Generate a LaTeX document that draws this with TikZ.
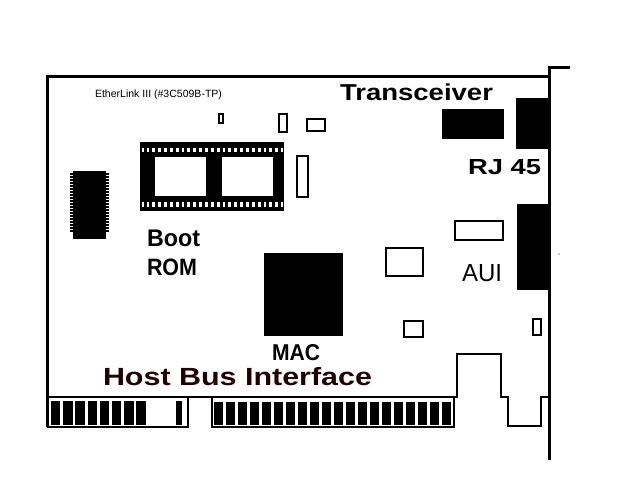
\documentclass[tikz,border=0pt]{standalone}
\usepackage{fontspec}
\setmainfont{Liberation Sans}
\usepackage{graphicx}
\definecolor{hostcol}{HTML}{200000}
\begin{document}
\begin{tikzpicture}[x=0.75pt,y=-0.75pt,
  edge/.style={line width=2.25pt},
  thinedge/.style={line width=1.5pt},
  part/.style={draw, line width=1.5pt},
  lbl/.style={inner sep=0pt, outer sep=0pt, anchor=base west}]
\useasboundingbox[fill=white] (0,0) rectangle (640,480);

% board outline
\draw[edge] (548,76) -- (47,76) -- (47,427);
\draw[thinedge] (47,427) -- (188,427) -- (188,397);
\draw[thinedge] (47,397) -- (456.5,397) -- (456.5,354) -- (500.5,354) -- (500.5,396.5)
   -- (507.5,396.5) -- (507.5,426) -- (541,426) -- (541,397) -- (548,397);
% bracket
\draw[line width=2.25pt] (570,67.5) -- (549,67.5) -- (549,460);
\fill (559,254) circle (0.6);

% edge connectors
\draw[thinedge] (212,397) rectangle (454,426.5);
\foreach \k in {0,...,7} \fill (51+12.2*\k,401) rectangle ++(9.3,24);
\fill (176,401) rectangle (182,425);
\foreach \k in {0,...,19} \fill (214+12*\k,401.5) rectangle ++(9,23.5);

% boot ROM socket
\fill (140,142) rectangle (284,211);
\fill[white] (155,157) rectangle (206,196);
\fill[white] (222,157) rectangle (273,196);
\fill[white] (142,148) rectangle (283,152);
\fill[white] (142,202) rectangle (283,206.5);
\foreach \k in {0,...,23} {
  \fill (143.5+5.85*\k,148) rectangle ++(3,4);
  \fill (143.5+5.85*\k,202) rectangle ++(3,4.5);
}

% left chip
\foreach \k in {0,...,19} \fill (70,173+3*\k) rectangle ++(39,2);
\fill (73,171) rectangle (106,239);

% small outlined parts
\draw[part] (218.5,113.5) rectangle (223,123);
\draw[part] (278.5,113.5) rectangle (286.5,131.5);
\draw[part] (307,119) rectangle (325,131);
\draw[part] (296.5,155.5) rectangle (307.5,197);
\draw[part] (455,220.5) rectangle (503,240);
\draw[part] (385.5,247.5) rectangle (423,276);
\draw[part] (403.5,320.5) rectangle (423,337);
\draw[part] (532.5,318.5) rectangle (540.5,335);

% solid parts
\fill (442,109) rectangle (504,139);
\fill (516,98) rectangle (549,149);
\fill (517,204) rectangle (549,290);
\fill (264,253) rectangle (343,336);

% labels
\node[lbl] (model) at (95,97) {\resizebox{95.25pt}{!}{EtherLink III (\#3C509B-TP)}};
\node[lbl] (transceiver) at (340,100) {\resizebox{114.75pt}{12.5pt}{\bfseries Transceiver}};
\node[lbl] (rj) at (468,174) {\resizebox{54.75pt}{11.25pt}{\bfseries RJ 45}};
\node[lbl] (boot) at (147,246) {\resizebox{39.75pt}{12.4pt}{\bfseries Boot}};
\node[lbl] (rom) at (147,275) {\resizebox{37.5pt}{12.4pt}{\bfseries ROM}};
\node[lbl] (aui) at (462,281) {\resizebox{30pt}{12.75pt}{AUI}};
\node[lbl] (mac) at (272,360) {\resizebox{36pt}{12pt}{\bfseries MAC}};
\node[lbl, text=hostcol] (host) at (103,385) {\resizebox{201.75pt}{13.5pt}{\bfseries Host Bus Interface}};
\end{tikzpicture}
\end{document}
